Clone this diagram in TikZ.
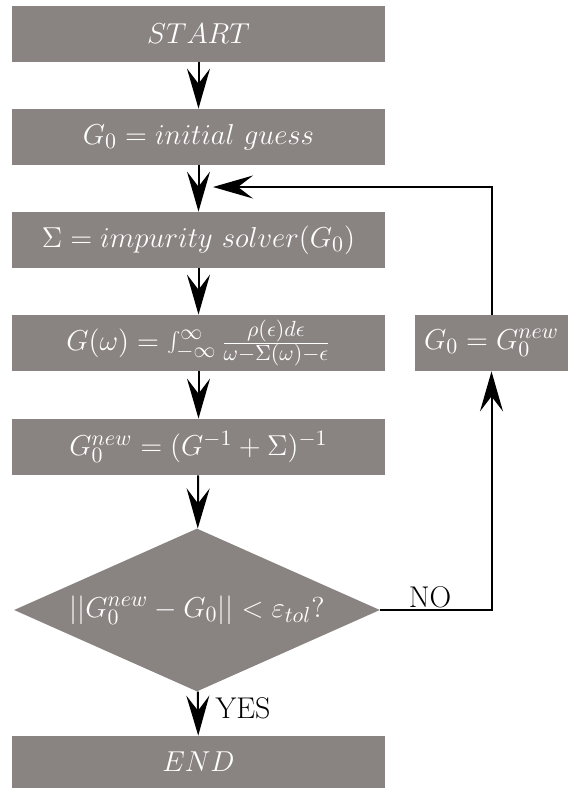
\documentclass[tikz,border=0pt]{standalone}
\usetikzlibrary{arrows.meta,shapes.geometric}
\definecolor{boxgray}{RGB}{137,132,130}
\begin{document}
\begin{tikzpicture}[x=0.5pt,y=-0.5pt,
  box/.style={fill=boxgray, draw=none, text=white, minimum width=186.5pt, minimum height=28pt, inner sep=0pt, font=\fontsize{15}{18}\selectfont},
  dec/.style={diamond, fill=boxgray, draw=none, text=white, minimum width=183pt, minimum height=81.5pt, inner sep=0pt, aspect=2.25, font=\fontsize{15}{18}\selectfont},
  lbl/.style={font=\fontsize{15}{18}\selectfont, inner sep=0pt},
  arr/.style={line width=1pt, -{Stealth[length=20pt,width=11.5pt,inset=7.5pt]}}]
\useasboundingbox (0,0) rectangle (571,789);
\node[box] (start) at (198.5,33.5) {$START$};
\node[box] (init) at (198.5,137) {$G_0 = initial\ guess$};
\node[box] (sigma) at (198.5,240) {$\Sigma = impurity\ solver(G_0)$};
\node[box] (green) at (198.5,343) {$G(\omega) = \int_{-\infty}^{\infty} \frac{\rho(\epsilon)d\epsilon}{\omega-\Sigma(\omega)-\epsilon}$\hspace{13pt}};
\node[box] (gnew) at (198.5,447) {$G_0^{new} = (G^{-1}+\Sigma)^{-1}$};
\node[dec] (check) at (197,610) {$||G_0^{new} - G_0|| < \varepsilon_{tol}?$};
\node[box, minimum height=26pt] (end) at (198.5,762) {$END$};
\node[box, minimum width=76.5pt] (upd) at (491.5,343) {$G_0 = G_0^{new}$};
\coordinate (fb) at (213,187);
\draw[arr] (start) -- (init);
\draw[arr] (init) -- (sigma);
\draw[arr] (sigma) -- (green);
\draw[arr] (green) -- (gnew);
\draw[arr] (gnew) -- (check);
\draw[arr] (check) -- (end);
\draw[arr] (check.east) -| (upd.south);
\draw[arr] (upd.north) |- (fb);
\node[lbl] (no) at (430,597) {NO};
\node[lbl] (yes) at (243,708) {YES};
\end{tikzpicture}
\end{document}
